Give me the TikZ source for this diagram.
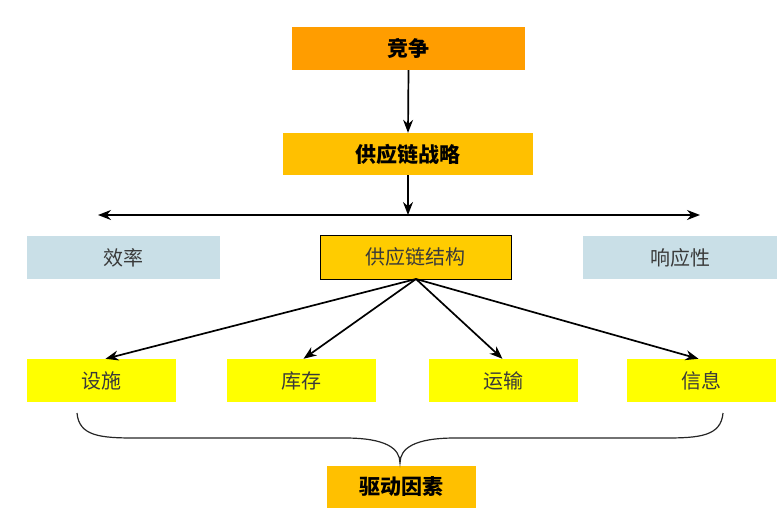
\documentclass[tikz,border=0pt]{standalone}
\usepackage{fontspec}
\setmainfont{Noto Sans CJK SC}
\usetikzlibrary{arrows.meta}
\definecolor{orangeA}{HTML}{FF9D00}
\definecolor{goldA}{HTML}{FFC000}
\definecolor{goldB}{HTML}{FFCC00}
\definecolor{blueA}{HTML}{C9DFE7}
\definecolor{yellowA}{HTML}{FFFF00}
\definecolor{txtgray}{HTML}{3A3A3A}
\tikzset{
  boldbox/.style={inner sep=0pt, font=\fontsize{21}{21}\selectfont\bfseries, text=black},
  plainbox/.style={inner sep=0pt, font=\fontsize{20}{20}\selectfont, text=txtgray},
  arr/.style={line width=1.7pt, -{Stealth[length=13pt,width=10pt]}},
  brace/.style={line width=1.2pt, draw=black!85}
}
\begin{document}
\begin{tikzpicture}[x=1pt,y=-1pt]
\useasboundingbox (0,0) rectangle (784,517);
\node[boldbox, fill=orangeA, minimum width=233pt, minimum height=43pt] (comp) at (408.5,48.5) {竞争};
\node[boldbox, fill=goldA, minimum width=250pt, minimum height=42pt] (strat) at (408,154) {供应链战略};
\node[plainbox, fill=blueA, minimum width=193pt, minimum height=43pt] (eff) at (123.5,257.5) {效率};
\node[plainbox, fill=goldB, draw=black, line width=1pt, minimum width=191pt, minimum height=44pt] (struct) at (415.5,257) {供应链结构};
\node[plainbox, fill=blueA, minimum width=194pt, minimum height=43pt] (resp) at (680,257.5) {响应性};
\node[plainbox, fill=yellowA, minimum width=149pt, minimum height=43pt] (fac) at (101.5,380.5) {设施};
\node[plainbox, fill=yellowA, minimum width=149pt, minimum height=43pt] (inv) at (301.5,380.5) {库存};
\node[plainbox, fill=yellowA, minimum width=149pt, minimum height=43pt] (trans) at (503.5,380.5) {运输};
\node[plainbox, fill=yellowA, minimum width=149pt, minimum height=43pt] (info) at (701.5,380.5) {信息};
\node[boldbox, fill=goldA, minimum width=149pt, minimum height=42pt] (drive) at (401.5,487) {驱动因素};

\coordinate (hl) at (98,215);
\coordinate (hr) at (700,215);
\coordinate (hm) at (408,215);
\coordinate (src) at (416,279);

\draw[arr] (comp.south) -- (strat.north);
\draw[arr] (strat.south) -- (hm);
\draw[line width=1.7pt, {Stealth[length=13pt,width=10pt]}-{Stealth[length=13pt,width=10pt]}] (hl) -- (hr);

\draw[arr] (src) -- ([xshift=4pt]fac.north);
\draw[arr] (src) -- ([xshift=2pt]inv.north);
\draw[arr] (src) -- ([xshift=-1pt]trans.north);
\draw[arr] (src) -- ([xshift=-3pt]info.north);

\coordinate (bl) at (77,413);
\coordinate (br) at (723,413);
\coordinate (bt) at (400,463);
\draw[brace] (bl) .. controls (79,436) and (100,438) .. (135,438) -- (345,438) .. controls (385,438) and (400,448) .. (bt)
  .. controls (400,448) and (415,438) .. (455,438) -- (665,438) .. controls (700,438) and (721,436) .. (br);
\end{tikzpicture}
\end{document}
